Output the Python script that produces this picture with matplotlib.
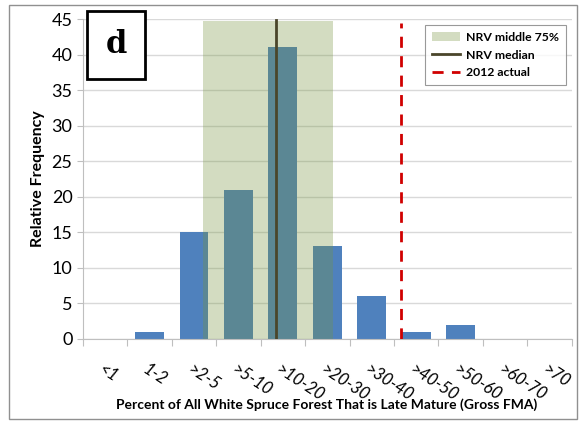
import numpy as np
import matplotlib
matplotlib.use("Agg")
import matplotlib.pyplot as plt
from matplotlib.patches import Rectangle, Patch
from matplotlib.lines import Line2D

# categorias y frecuencias
categorias = ['<1', '1-2', '>2-5', '>5-10', '>10-20', '>20-30', '>30-40',
              '>40-50', '>50-60', '>60-70', '>70']
frecuencia = [0, 1, 15, 21, 41, 13, 6, 1, 2, 0, 0]

# rango NRV (en posiciones de categoria) y lineas
nrv_bajo = 2.2
nrv_alto = 5.12
nrv_tope = 44.7
nrv_mediana = 3.84
actual_2012 = 6.66

plt.rcParams['font.family'] = ['Lato', 'DejaVu Sans']

fig = plt.figure(figsize=(5.84, 4.23), dpi=100)
ax = fig.add_axes([0.142, 0.199, 0.837, 0.756])

x = np.arange(len(categorias))
ax.bar(x, frecuencia, width=0.65, color='#4F81BD', zorder=2)

ax.add_patch(Rectangle((nrv_bajo, 0), nrv_alto - nrv_bajo, nrv_tope,
                       facecolor='#769540', alpha=0.32, edgecolor='none', zorder=3))
ax.plot([nrv_mediana, nrv_mediana], [0, 44.8], color='#4A452A', lw=2, zorder=4)
ax.plot([actual_2012, actual_2012], [0, 44.5], color='#D00000', lw=2,
        dashes=(4, 3), zorder=4)

ax.set_xlim(-0.5, len(categorias) - 0.5)
ax.set_ylim(0, 45)
ax.set_yticks(range(0, 46, 5))
ax.yaxis.grid(True, color='#D9D9D9', lw=1)
ax.set_axisbelow(True)
for s in ['top', 'right']:
    ax.spines[s].set_visible(False)
ax.spines['left'].set_color('#BFBFBF')
ax.spines['bottom'].set_color('#BFBFBF')
ax.tick_params(axis='y', labelsize=13, length=4, color='#BFBFBF')

ax.set_xticks(np.arange(-0.5, len(categorias), 1))
ax.set_xticklabels([])
ax.tick_params(axis='x', length=5, color='#BFBFBF')
for i, c in enumerate(categorias):
    ax.text(i - 0.02, -3.2, c, rotation=-33, rotation_mode='anchor',
            ha='left', va='top', fontsize=12, style='italic')

ax.set_ylabel('Relative Frequency', fontsize=11.5, fontweight='bold', labelpad=5)
fig.text(0.56, 0.043, 'Percent of All White Spruce Forest That is Late Mature (Gross FMA)',
         fontsize=10, fontweight='bold', ha='center', va='center')

handles = [Patch(facecolor='#769540', alpha=0.32, edgecolor='none'),
           Line2D([0], [0], color='#4A452A', lw=2),
           Line2D([0], [0], color='#D00000', lw=2, dashes=(4, 3))]
leg = ax.legend(handles, ['NRV middle 75%', 'NRV median', '2012 actual'],
                loc='upper right', bbox_to_anchor=(1.0, 1.0), fancybox=False,
                edgecolor='#808080', prop={'weight': 'bold', 'size': 8.8},
                handlelength=2.3, handletextpad=0.5, borderpad=0.55,
                labelspacing=0.55)
leg.get_frame().set_linewidth(0.8)

# caja con la letra
fig.text(0.199, 0.894, 'd', fontsize=22, fontweight='bold', family='DejaVu Serif',
         ha='center', va='center',
         bbox=dict(boxstyle='square,pad=0.6', facecolor='white',
                   edgecolor='black', lw=2))

# borde exterior
fig.patches.append(Rectangle((0.015, 0.01), 0.973, 0.978, transform=fig.transFigure,
                             fill=False, edgecolor='#909090', lw=1))

fig.savefig('out.png', dpi=100)
